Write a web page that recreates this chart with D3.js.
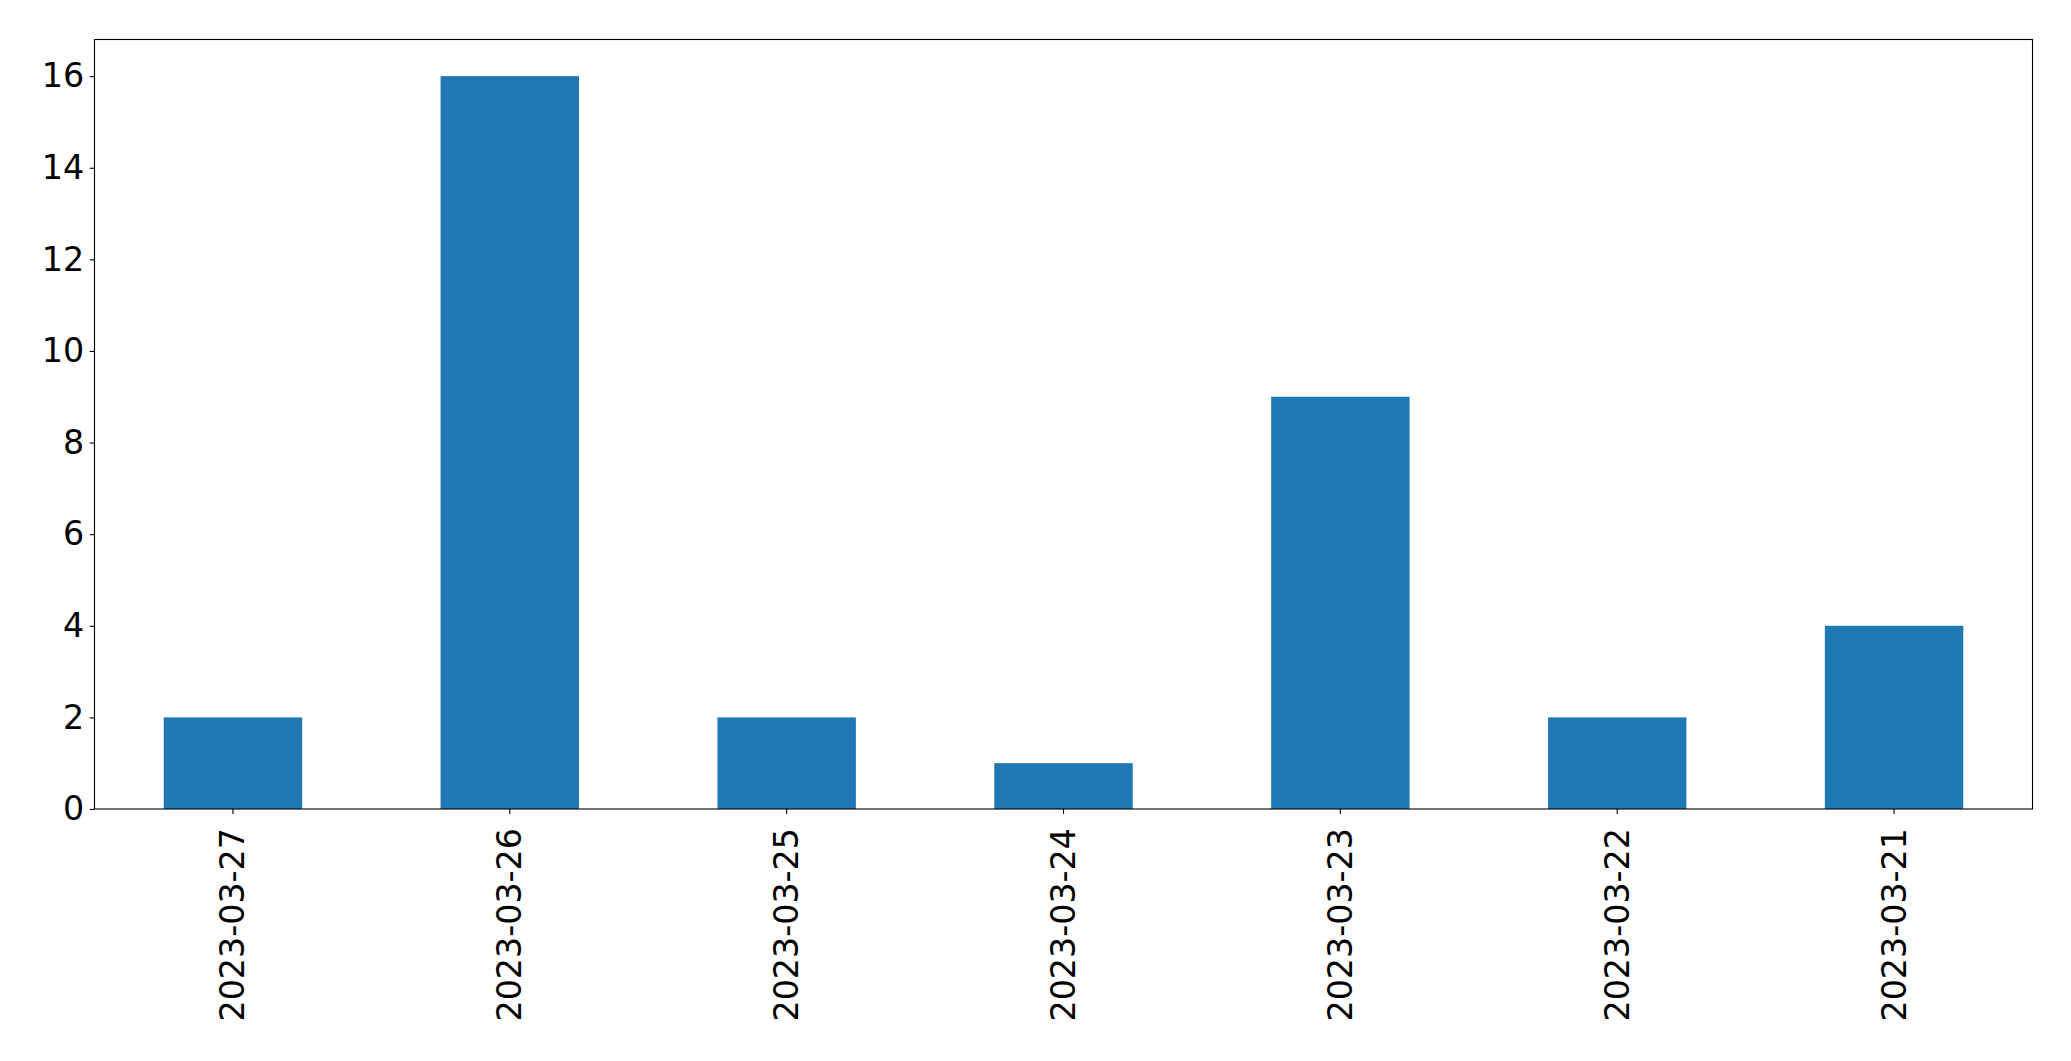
<!DOCTYPE html>
<html>
<head>
<meta charset="utf-8">
<script src="https://cdn.jsdelivr.net/npm/d3@7"></script>
<style>
  html, body { margin: 0; padding: 0; background: #fff; }
  svg { display: block; }
  text { font-family: "DejaVu Sans", sans-serif; }
</style>
</head>
<body>
<script>
const categories = ["2023-03-27", "2023-03-26", "2023-03-25", "2023-03-24", "2023-03-23", "2023-03-22", "2023-03-21"];
const values = [2, 16, 2, 1, 9, 2, 4];
const yTicks = [0, 2, 4, 6, 8, 10, 12, 14, 16];

const W = 2071, H = 1061;
const margin = { left: 94.5, right: W - 2032.5, top: 39.5, bottom: H - 809 };
const iw = W - margin.left - margin.right;
const ih = H - margin.top - margin.bottom;

const svg = d3.select("body").append("svg").attr("width", W).attr("height", H);
const g = svg.append("g").attr("transform", `translate(${margin.left},${margin.top})`);

const x = d3.scaleBand().domain(categories).range([0, iw]).paddingInner(0.5).paddingOuter(0.25);
const y = d3.scaleLinear().domain([0, 16.8]).range([ih, 0]);

g.selectAll("rect.bar").data(values).join("rect")
  .attr("class", "bar")
  .attr("x", (d, i) => x(categories[i]))
  .attr("width", x.bandwidth())
  .attr("y", d => y(d))
  .attr("height", d => ih - y(d))
  .attr("fill", "#1f77b4");

const fs = 33.3;

const yAxis = g.append("g").call(d3.axisLeft(y).tickValues(yTicks).tickFormat(d3.format("d")).tickSize(4.9).tickPadding(5.5));
yAxis.select(".domain").remove();
yAxis.selectAll("line").attr("stroke", "#000").attr("stroke-width", 1.1);
yAxis.selectAll("text").attr("font-size", fs).attr("fill", "#000").attr("font-family", "DejaVu Sans");

const xAxis = g.append("g").attr("transform", `translate(0,${ih})`)
  .call(d3.axisBottom(x).tickSize(4.9).tickPadding(0));
xAxis.select(".domain").remove();
xAxis.selectAll("line").attr("stroke", "#000").attr("stroke-width", 1.1);
xAxis.selectAll("text")
  .attr("font-size", fs).attr("fill", "#000").attr("font-family", "DejaVu Sans")
  .attr("text-anchor", "end")
  .attr("dy", null)
  .attr("dominant-baseline", "central")
  .attr("transform", "translate(0,19) rotate(-90)")
  .attr("x", 0).attr("y", 0);

g.append("rect").attr("x", 0).attr("y", 0).attr("width", iw).attr("height", ih)
  .attr("fill", "none").attr("stroke", "#000").attr("stroke-width", 1.1);
</script>
</body>
</html>
